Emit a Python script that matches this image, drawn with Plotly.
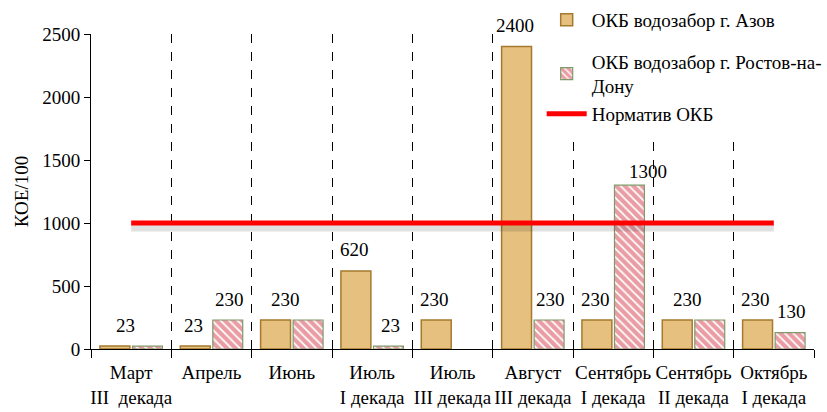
import plotly.graph_objects as go

categories = ["Март<br>III  декада", "Апрель", "Июнь", "Июль<br>I декада", "Июль<br>III декада",
              "Август<br>III декада", "Сентябрь<br>I декада", "Сентябрь<br>II декада", "Октябрь<br>I декада"]
azov = [23, 23, 230, 620, 230, 2400, 230, 230, 230]
rostov = [23, 230, 230, 23, None, 230, 1300, 230, 130]
azov_labels = ["23", "23", "230", "620", "230", "2400", "230", "230", "230"]
rostov_labels = ["", "230", "", "23", "", "230", "1300", "", "130"]
norm = [1000] * len(categories)

name_azov = "ОКБ водозабор г. Азов"
name_rostov = "ОКБ водозабор г. Ростов-на-<br>Дону"
name_norm = "Норматив ОКБ"

FONT = "Liberation Serif"
px_per_unit = 315 / 2500

fig = go.Figure()
fig.add_trace(go.Bar(
    x=categories, y=azov, name=name_azov, legendgroup="a",
    marker=dict(color="#E5C07F", line=dict(color="#A57A2E", width=1.5)),
))
fig.add_trace(go.Bar(
    x=categories, y=rostov, name=name_rostov, legendgroup="b",
    marker=dict(color="white", line=dict(color="#7E9A6A", width=1.2),
                pattern=dict(shape="\\", fgcolor="#D63A4A", bgcolor="white", size=6, solidity=0.7)),
))
# soft shadow under the norm line
fig.add_trace(go.Scatter(
    x=categories, y=[v - 5 / px_per_unit for v in norm], mode="lines", showlegend=False,
    line=dict(color="rgba(0,0,0,0.12)", width=7), hoverinfo="skip",
))
fig.add_trace(go.Scatter(
    x=categories, y=norm, mode="lines", name=name_norm, legendgroup="b",
    line=dict(color="#FF0000", width=5),
))

# data labels
for i, c in enumerate(categories):
    if azov_labels[i]:
        xs = -18
        if not rostov_labels[i] and rostov[i] == azov[i]:
            xs = -6
        fig.add_annotation(x=c, y=azov[i], text=azov_labels[i], showarrow=False,
                           xshift=xs, yshift=21, font=dict(family=FONT, size=19, color="black"))
    if rostov_labels[i]:
        xs, ys = 18, 21
        if rostov[i] > 1000:
            xs, ys = 35, 14
        fig.add_annotation(x=c, y=rostov[i], text=rostov_labels[i], showarrow=False,
                           xshift=xs, yshift=ys, font=dict(family=FONT, size=19, color="black"))

fig.update_layout(
    width=827, height=412,
    margin=dict(l=91, r=13, t=34, b=63, autoexpand=False),
    paper_bgcolor="white", plot_bgcolor="white",
    font=dict(family=FONT, size=19, color="black"),
    barmode="group", bargap=0.19, bargroupgap=0.08,
    showlegend=True,
    legend=dict(xref="container", yref="container", x=0.655, y=0.998, xanchor="left", yanchor="top",
                bgcolor="white", traceorder="grouped", tracegroupgap=14,
                font=dict(family=FONT, size=19, color="black"), itemwidth=40),
)
fig.update_xaxes(
    type="category", tickson="boundaries", ticks="outside", ticklen=8, tickcolor="black",
    tickangle=0, automargin=False, ticklabelstandoff=6,
    showline=True, linecolor="black", linewidth=1,
    showgrid=True, gridcolor="black", griddash="dash", gridwidth=1,
    tickfont=dict(family=FONT, size=19, color="black"),
)
fig.update_yaxes(
    range=[0, 2500], tickvals=[0, 500, 1000, 1500, 2000, 2500],
    ticks="outside", ticklen=6, tickcolor="black", automargin=False,
    showline=True, linecolor="black", linewidth=1, showgrid=False, zeroline=False,
    title=dict(text="КОЕ/100", font=dict(family=FONT, size=19, color="black"), standoff=8),
    tickfont=dict(family=FONT, size=19, color="black"),
)

fig.write_html("out.html", config={"displayModeBar": False})
with open("out.html", encoding="utf-8") as f:
    html = f.read()
html = html.replace("<body>", '<body style="margin:0;overflow:hidden">', 1)
with open("out.html", "w", encoding="utf-8") as f:
    f.write(html)
